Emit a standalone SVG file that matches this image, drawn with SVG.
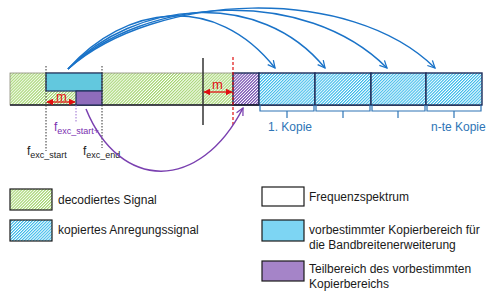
<svg xmlns="http://www.w3.org/2000/svg" width="489" height="293" viewBox="0 0 489 293">
<defs>
  <pattern id="hG" width="2.1" height="2.1" patternUnits="userSpaceOnUse" patternTransform="rotate(45)">
    <rect width="2.1" height="2.1" fill="#ffffff"/>
    <rect x="0" y="0" width="1.1" height="2.1" fill="#a2d46c"/>
  </pattern>
  <pattern id="hB" width="2.1" height="2.1" patternUnits="userSpaceOnUse" patternTransform="rotate(45)">
    <rect width="2.1" height="2.1" fill="#ffffff"/>
    <rect x="0" y="0" width="1.1" height="2.1" fill="#38b9ea"/>
  </pattern>
  <pattern id="hP" width="2.1" height="2.1" patternUnits="userSpaceOnUse" patternTransform="rotate(45)">
    <rect width="2.1" height="2.1" fill="#ffffff"/>
    <rect x="0" y="0" width="1.2" height="2.1" fill="#7a55b3"/>
  </pattern>
  <marker id="aBlue" viewBox="0 0 10 10" refX="9" refY="5" markerWidth="9" markerHeight="9" orient="auto" markerUnits="userSpaceOnUse">
    <path d="M1,1 L9,5 L1,9" fill="none" stroke="#1a73c8" stroke-width="1.4"/>
  </marker>
  <marker id="aPur" viewBox="0 0 10 10" refX="9" refY="5" markerWidth="9" markerHeight="9" orient="auto" markerUnits="userSpaceOnUse">
    <path d="M1,1 L9,5 L1,9" fill="none" stroke="#7a40b0" stroke-width="1.4"/>
  </marker>
  <marker id="aRed" viewBox="0 0 10 10" refX="9" refY="5" markerWidth="7" markerHeight="7" orient="auto-start-reverse" markerUnits="userSpaceOnUse">
    <path d="M0,0 L10,5 L0,10 Z" fill="#e01010"/>
  </marker>
  <style>
    text { font-family: "Liberation Sans", Arial, sans-serif; }
    .lg { font-size: 12px; fill: #1a1a1a; }
    .kop { font-size: 12px; fill: #2e75b6; }
    .m { font-size: 13px; fill: #e01010; }
    .f { font-size: 12px; fill: #222; }
    .fp { font-size: 12px; fill: #7a30b0; }
    .sub { font-size: 9px; }
    .dot { stroke: #333; stroke-width: 1; stroke-dasharray: 1.5 1.5; fill: none; }
    .copy { fill: url(#hB); stroke: #1f2d5a; stroke-width: 1.4; }
    .br { fill: none; stroke: #2e75b6; stroke-width: 1.2; }
    .arc { fill: none; stroke: #1a73c8; stroke-width: 1.5; marker-end: url(#aBlue); }
    .red { stroke: #e01010; stroke-width: 1.3; marker-start: url(#aRed); marker-end: url(#aRed); }
  </style>
</defs>

<g id="bar">
  <rect x="10" y="73" width="223" height="32" fill="url(#hG)" stroke="#8a8a7a" stroke-width="0.8"/>
  <rect x="233" y="73" width="26" height="32" fill="url(#hP)" stroke="#1f2d5a" stroke-width="1.4"/>
  <line x1="10" y1="105" x2="482" y2="105" stroke="#1a1a2a" stroke-width="1.6"/>
</g>

<g id="copy-region">
  <rect x="46" y="73" width="56" height="18" fill="#62c8de" stroke="#1f2d5a" stroke-width="1.2"/>
</g>
<g id="sub-region">
  <rect x="76" y="91" width="26" height="14" fill="#8f6cbb" stroke="#1f2d5a" stroke-width="1.2"/>
</g>

<g id="copies">
  <rect class="copy" x="259" y="73" width="56" height="32"/>
  <rect class="copy" x="315" y="73" width="56" height="32"/>
  <rect class="copy" x="371" y="73" width="55" height="32"/>
  <rect class="copy" x="426" y="73" width="56" height="32"/>
</g>

<g id="brackets">
  <path class="br" d="M260,105 V111 H314 V105 M287,111 V118"/>
  <path class="br" d="M316,105 V111 H370 V105 M343,111 V118"/>
  <path class="br" d="M372,105 V111 H425 V105 M398,111 V118"/>
  <path class="br" d="M427,105 V111 H481 V105 M454,111 V118"/>
  <text class="kop" x="268" y="131">1. Kopie</text>
  <text class="kop" x="431" y="131">n-te Kopie</text>
</g>

<g id="markers">
  <line class="dot" x1="46" y1="66" x2="46" y2="151"/>
  <line class="dot" x1="102" y1="66" x2="102" y2="148"/>
  <line x1="76" y1="105" x2="76" y2="122" stroke="#9a6fd0" stroke-width="1" stroke-dasharray="1.5 1.5"/>
  <line x1="203" y1="58" x2="203" y2="125" stroke="#333" stroke-width="1.5"/>
  <line x1="233" y1="57" x2="233" y2="126" stroke="#e01010" stroke-width="1.2" stroke-dasharray="3 2"/>
  <text class="fp" x="54" y="131">f<tspan class="sub" dy="3">exc_start+</tspan></text>
  <text class="f" x="27" y="155">f<tspan class="sub" dy="3">exc_start</tspan></text>
  <text class="f" x="83" y="155">f<tspan class="sub" dy="3">exc_end</tspan></text>
</g>

<g id="connectors">
  <line class="red" x1="47" y1="102" x2="75" y2="102"/>
  <text class="m" x="56" y="101">m</text>
  <line class="red" x1="204" y1="92" x2="232" y2="92"/>
  <text class="m" x="212" y="89">m</text>
  <path class="arc" d="M68,69 C125,5 215,-8 275,68"/>
  <path class="arc" d="M68,69 C135,0 260,-12 325,68"/>
  <path class="arc" d="M68,69 C145,-4 305,-14 387,68"/>
  <path class="arc" d="M68,69 C155,-8 350,-16 435,68"/>
  <path d="M86,109 C120,192 200,192 243,108" fill="none" stroke="#7a40b0" stroke-width="1.5" marker-end="url(#aPur)"/>
</g>

<g id="legend-decodiert">
  <rect x="10" y="189" width="42" height="21" fill="url(#hG)" stroke="#1a1a1a" stroke-width="1.2"/>
  <text class="lg" x="58" y="204">decodiertes Signal</text>
</g>
<g id="legend-kopiert">
  <rect x="10" y="220" width="42" height="21" fill="url(#hB)" stroke="#1a1a1a" stroke-width="1.2"/>
  <text class="lg" x="58" y="234">kopiertes Anregungssignal</text>
</g>
<g id="legend-spektrum">
  <rect x="262" y="187" width="42" height="19" fill="#ffffff" stroke="#1a1a1a" stroke-width="1.2"/>
  <text class="lg" x="309" y="201">Frequenzspektrum</text>
</g>
<g id="legend-kopierbereich">
  <rect x="262" y="220" width="42" height="21" fill="#7dd5f3" stroke="#1a1a1a" stroke-width="1.2"/>
  <text class="lg" x="309" y="234">vorbestimmter Kopierbereich für</text>
  <text class="lg" x="309" y="249">die Bandbreitenerweiterung</text>
</g>
<g id="legend-teilbereich">
  <rect x="262" y="261" width="42" height="20" fill="#a584c8" stroke="#1a1a1a" stroke-width="1.2"/>
  <text class="lg" x="309" y="273">Teilbereich des vorbestimmten</text>
  <text class="lg" x="309" y="288">Kopierbereichs</text>
</g>
</svg>
